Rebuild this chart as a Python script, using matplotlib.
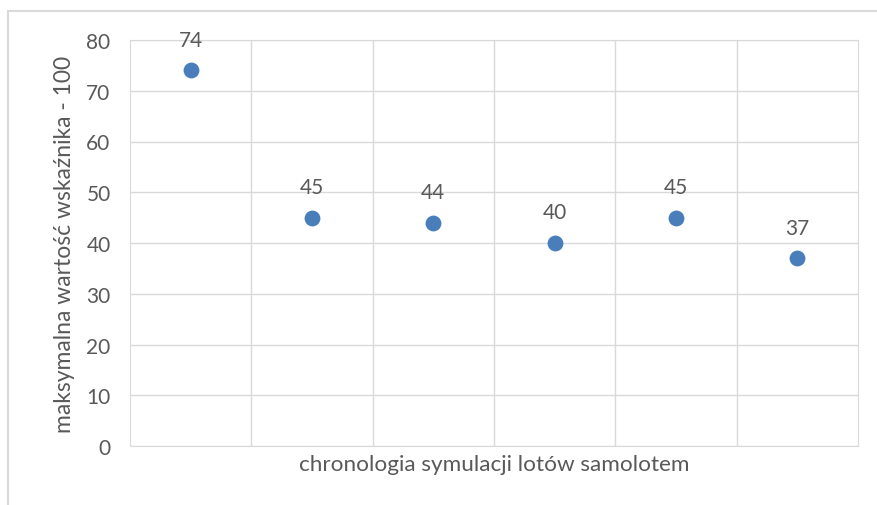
import matplotlib
matplotlib.use('Agg')
from matplotlib import pyplot as plt
from matplotlib.patches import Rectangle

# kolejne symulacje lotu i maksymalna wartosc wskaznika
flights = [1, 2, 3, 4, 5, 6]
max_values = [74, 45, 44, 40, 45, 37]

plt.rcParams['font.family'] = ['Lato', 'DejaVu Sans']
TEXT_COLOR = '#595959'
GRID_COLOR = '#d9d9d9'

fig = plt.figure(figsize=(8.77, 5.06), dpi=100)
W, H = 877, 506
ax = fig.add_axes([130/W, 1 - 447/H, 728/W, 406/H])

# ramka wykresu
fig.patches.append(Rectangle((8/W, -0.1), 1.0, 1 - 12/H + 0.1, transform=fig.transFigure,
                             fill=False, edgecolor='#d9d9d9', lw=1.5))

ax.scatter(flights, max_values, s=130, color='#4a7ebb', zorder=3, linewidths=0)
for x, y in zip(flights, max_values):
    ax.annotate(str(y), (x, y), xytext=(0, 22), textcoords='offset points',
                ha='center', va='center', fontsize=15, color=TEXT_COLOR)

ax.set_xlim(0.5, 6.5)
ax.set_ylim(0, 80)
ax.set_yticks(range(0, 81, 10))
ax.set_xticks([1.5, 2.5, 3.5, 4.5, 5.5])
ax.tick_params(axis='x', length=0, labelbottom=False)
ax.tick_params(axis='y', length=0, labelsize=15, labelcolor=TEXT_COLOR, pad=14)
ax.grid(True, color=GRID_COLOR, lw=1)
ax.set_axisbelow(True)
for side in ax.spines.values():
    side.set_color(GRID_COLOR)

ax.set_xlabel('chronologia symulacji lotów samolotem', fontsize=16.2, color=TEXT_COLOR, labelpad=6)
ax.set_ylabel('maksymalna wartość wskaźnika - 100', fontsize=16.5, color=TEXT_COLOR, labelpad=8)

plt.savefig('out.png', dpi=100)
